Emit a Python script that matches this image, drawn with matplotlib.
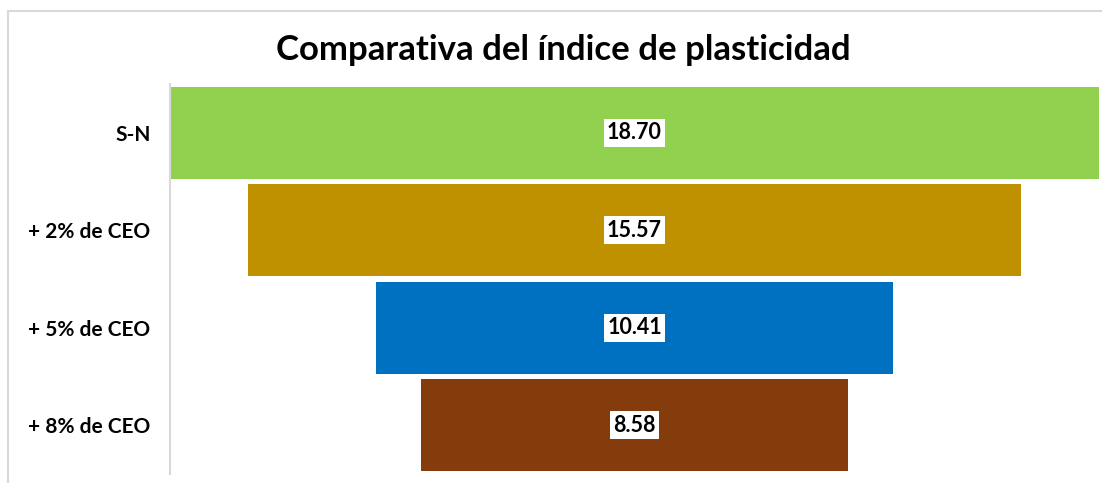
import matplotlib.pyplot as plt
from matplotlib.patches import Rectangle

categories = ["S-N", "+ 2% de CEO", "+ 5% de CEO", "+ 8% de CEO"]
values = [18.70, 15.57, 10.41, 8.58]
colors = ["#92D050", "#BF9000", "#0070C0", "#843C0C"]

W, H = 1102, 483
fig = plt.figure(figsize=(W / 100, H / 100), dpi=100)
plt.rcParams["font.family"] = ["Lato", "DejaVu Sans"]

# chart frame (only top and left edges fall inside the image)
fig.patches.append(Rectangle((8 / W, -0.1), 1.2, 1 - 11 / H + 0.1,
                             transform=fig.transFigure, fill=False,
                             edgecolor="#d9d9d9", linewidth=1.5))

ax = fig.add_axes([170 / W, 1 - 474 / H, (1099 - 170) / W, (474 - 84) / H])
half = max(values) / 2
ax.barh(range(len(values)), values, left=[-v / 2 for v in values],
        height=0.94, color=colors)
ax.set_xlim(-half, half)
ax.set_ylim(len(values) - 0.5, -0.5)

for i, v in enumerate(values):
    ax.text(0, i, f"{v:.2f}", ha="center", va="center", fontsize=15.5,
            fontweight="bold", color="black",
            bbox=dict(facecolor="white", edgecolor="none", pad=2.5))

ax.set_yticks(range(len(categories)))
ax.set_yticklabels(categories, fontsize=15, fontweight="bold")
ax.tick_params(axis="y", length=0, pad=14)
ax.set_xticks([])
for side in ["top", "right", "bottom"]:
    ax.spines[side].set_visible(False)
ax.spines["left"].set_color("#d9d9d9")
ax.spines["left"].set_linewidth(1.5)

fig.text(563 / W, 1 - 50 / H, "Comparativa del índice de plasticidad",
         ha="center", va="center", fontsize=25, fontweight="bold")

fig.savefig("out.png", dpi=100)
